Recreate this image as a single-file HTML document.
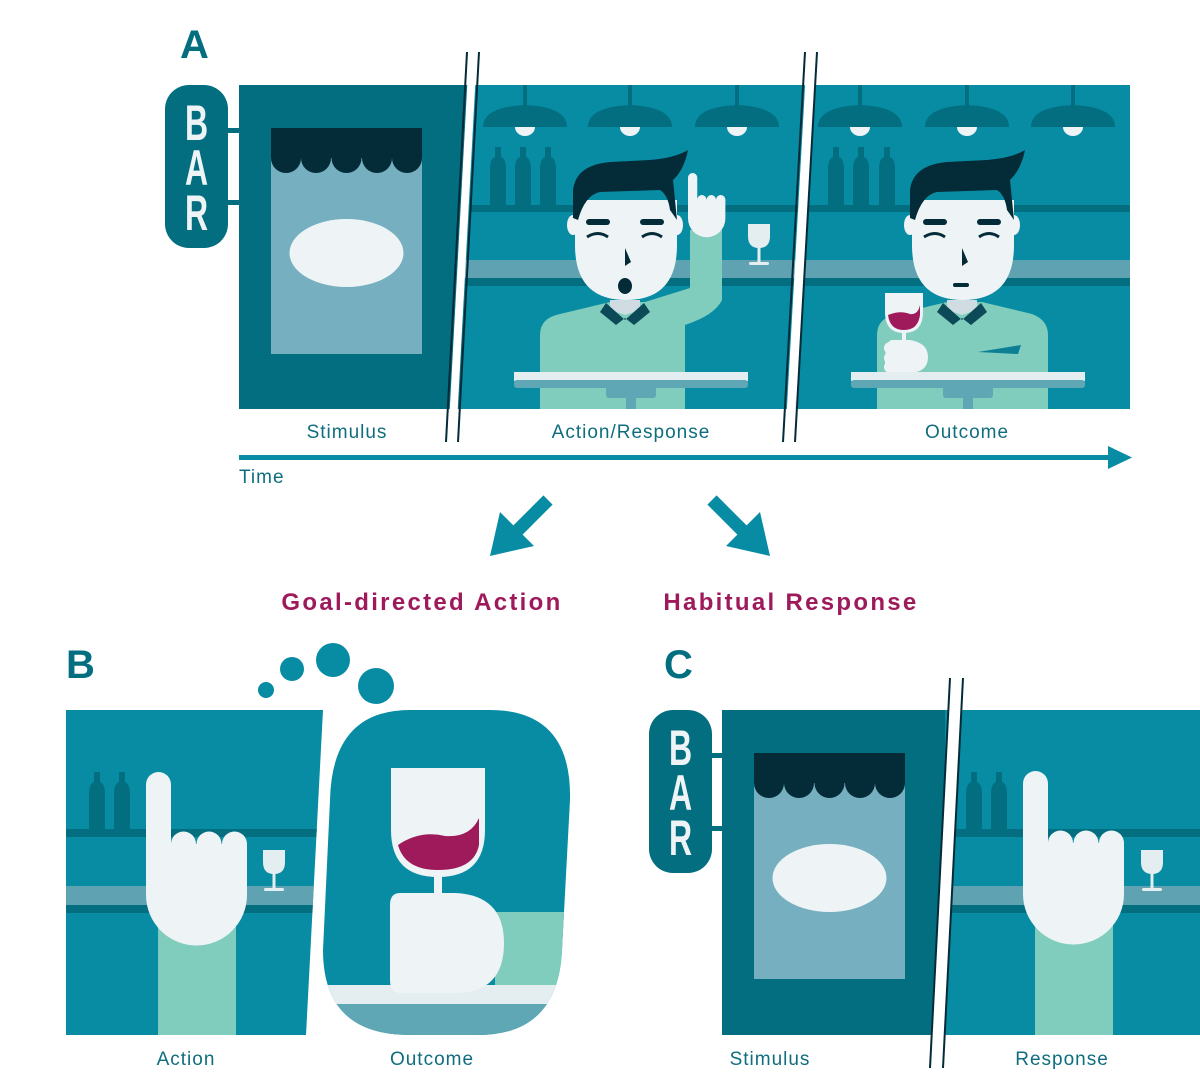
<!DOCTYPE html>
<html><head><meta charset="utf-8"><style>
html,body{margin:0;padding:0;background:#fff;}
svg{display:block}
text{font-family:"Liberation Sans",sans-serif;}
</style></head><body>
<svg width="1200" height="1078" viewBox="0 0 1200 1078" xmlns="http://www.w3.org/2000/svg">
<defs>
  <g id="lamp">
    <rect x="-2" y="0" width="4" height="22" fill="#036e80"/>
    <path d="M-42,42 Q-42,22 0,20 Q42,22 42,42 Z" fill="#036e80"/>
    <path d="M-10,42 A10,9 0 0 0 10,42 Z" fill="#eef4f6"/>
  </g>
  <g id="bottle">
    <rect x="-3" y="0" width="6" height="12" fill="#036e80"/>
    <path d="M-8,58 L-8,22 Q-8,12 -3,10 L3,10 Q8,12 8,22 L8,58 Z" fill="#036e80"/>
  </g>
  <g id="smallglass">
    <path d="M-11,0 L11,0 L11,12 Q11,24 0,24 Q-11,24 -11,12 Z" fill="#e4eef1"/>
    <rect x="-1.5" y="23" width="3" height="16" fill="#e4eef1"/>
    <rect x="-10" y="38" width="20" height="3" rx="1.5" fill="#e4eef1"/>
  </g>
  <g id="hand">
    <rect x="0" y="0" width="25" height="90" rx="12.5" fill="#eef4f6"/>
    <path d="M0,72 L101,72 L101,123 A50.5,50.5 0 0 1 0,123 Z" fill="#eef4f6"/>
    <circle cx="37.5" cy="72" r="12.5" fill="#eef4f6"/>
    <circle cx="63" cy="72" r="12.5" fill="#eef4f6"/>
    <circle cx="88.5" cy="72" r="12.5" fill="#eef4f6"/>
  </g>
  <g id="barsign">
    <rect x="0" y="0" width="63" height="163" rx="24" fill="#036e80"/>
    <g font-weight="bold" fill="#eef4f6" text-anchor="middle">
      <text transform="translate(31.5,55) scale(0.8,1.25)" font-size="40">B</text>
      <text transform="translate(31.5,100) scale(0.8,1.25)" font-size="40">A</text>
      <text transform="translate(31.5,145) scale(0.8,1.25)" font-size="40">R</text>
    </g>
  </g>
  <g id="door">
    <rect x="0" y="0" width="151" height="226" fill="#75afc0"/>
    <rect x="0" y="0" width="151" height="30" fill="#042b38"/>
    <circle cx="15" cy="30" r="15" fill="#042b38"/>
    <circle cx="45" cy="30" r="15" fill="#042b38"/>
    <circle cx="75.5" cy="30" r="15" fill="#042b38"/>
    <circle cx="106" cy="30" r="15" fill="#042b38"/>
    <circle cx="136" cy="30" r="15" fill="#042b38"/>
    <ellipse cx="75.5" cy="125" rx="57" ry="34" fill="#eef4f6"/>
  </g>
  <g id="head">
    <ellipse cx="573" cy="225" rx="6" ry="10" fill="#eef4f6"/>
    <ellipse cx="677" cy="225" rx="6" ry="10" fill="#eef4f6"/>
    <path d="M575,200 L677,200 L677,245 Q677,300 626,300 Q575,300 575,245 Z" fill="#eef4f6"/>
    <path d="M573,218 L573,190 Q576,165 610,162 L650,160 Q675,158 688,150 Q684,170 673,180 L677,220 L670,210 Q668,195 660,190 L600,192 Q585,195 578,220 Z" fill="#042b38"/>
    <rect x="586" y="219" width="24" height="6" rx="3" fill="#042b38"/>
    <rect x="640" y="219" width="24" height="6" rx="3" fill="#042b38"/>
    <path d="M587,237 Q598,230 608,237" stroke="#042b38" stroke-width="3" fill="none"/>
    <path d="M642,237 Q652,230 662,237" stroke="#042b38" stroke-width="3" fill="none"/>
    <path d="M625,248 L631,262 L625,266 Z" fill="#042b38"/>
    <path d="M610,300 L640,300 L640,310 L625,315 L610,310 Z" fill="#cfdde3"/>
  </g>
  <g id="table">
    <rect x="514" y="372" width="234" height="9" fill="#e4eef1"/>
    <rect x="514" y="380" width="234" height="8" rx="3" fill="#5fa7b5"/>
    <rect x="606" y="386" width="50" height="12" rx="3" fill="#5fa7b5"/>
    <rect x="626" y="396" width="10" height="14" fill="#5fa7b5"/>
  </g>
  <g id="barbg">
    <rect x="470" y="205" width="335" height="7" fill="#036e80"/>
    <rect x="465" y="260" width="340" height="18" fill="#5fa3b3"/>
    <rect x="465" y="278" width="340" height="8" fill="#036e80"/>
  </g>
  <clipPath id="cp2"><path d="M472,85 L805,85 L795,409 L460,409 Z"/></clipPath>
  <clipPath id="cp3"><path d="M815,85 L1130,85 L1130,409 L797,409 Z"/></clipPath>
  <clipPath id="cpB"><path d="M66,710 L323,710 L306,1035 L66,1035 Z"/></clipPath>
  <clipPath id="cpO"><path d="M410,710 L490,710 Q572,710 570,800 L562,950 Q558,1035 478,1035 L410,1035 Q323,1035 323,950 L330,800 Q332,710 410,710 Z"/></clipPath>
  <clipPath id="cpC"><rect x="945" y="710" width="255" height="325"/></clipPath>
</defs>

<!-- ===== A ===== -->
<text x="180" y="58" font-size="40" font-weight="bold" fill="#036e80">A</text>
<rect x="228" y="128" width="14" height="5" fill="#036e80"/>
<rect x="228" y="200" width="14" height="5" fill="#036e80"/>
<use href="#barsign" x="165" y="85"/>
<rect x="239" y="85" width="230" height="324" fill="#036e80"/>
<use href="#door" x="271" y="128"/>

<g clip-path="url(#cp2)">
  <rect x="455" y="85" width="355" height="324" fill="#078ca3"/>
  <use href="#barbg"/>
  <use href="#lamp" x="525" y="85"/>
  <use href="#lamp" x="630" y="85"/>
  <use href="#lamp" x="737" y="85"/>
  <use href="#bottle" x="498" y="147"/>
  <use href="#bottle" x="523" y="147"/>
  <use href="#bottle" x="548" y="147"/>
  <use href="#smallglass" x="759" y="224"/>
  <path d="M540,335 Q540,318 560,314 L610,302 L645,302 L690,288 L690,230 L722,230 L722,300 Q715,315 685,325 L685,409 L540,409 Z" fill="#80ccbd"/>
  <use href="#head"/>
  <ellipse cx="625" cy="286" rx="7" ry="8" fill="#042b38"/>
  <path d="M606,303 L625,320 L644,303 L650,312 L634,325 L625,318 L616,325 L600,312 Z" fill="#0d4a58"/>
  <g transform="translate(688,173) scale(0.37)"><use href="#hand"/></g>
  <use href="#table"/>
</g>

<g clip-path="url(#cp3)">
  <rect x="790" y="85" width="345" height="324" fill="#078ca3"/>
  <use href="#barbg" x="335"/>
  <rect x="1130" y="260" width="10" height="26" fill="#5fa3b3"/>
  <use href="#lamp" x="860" y="85"/>
  <use href="#lamp" x="967" y="85"/>
  <use href="#lamp" x="1073" y="85"/>
  <use href="#bottle" x="836" y="147"/>
  <use href="#bottle" x="861" y="147"/>
  <use href="#bottle" x="887" y="147"/>
  <path d="M877,335 Q877,318 897,314 L947,302 L982,302 L1032,314 Q1048,320 1048,335 L1048,409 L877,409 Z" fill="#80ccbd"/>
  <path d="M978,352 L1018,354 L1021,345 Z" fill="#0d7f94"/>
  <use href="#head" x="337"/>
  <rect x="953" y="283" width="16" height="4" rx="2" fill="#042b38"/>
  <path d="M943,303 L962,320 L981,303 L987,312 L971,325 L962,318 L953,325 L937,312 Z" fill="#0d4a58"/>
  <path d="M885,293 L923,293 L923,312 Q923,333 904,333 Q885,333 885,312 Z" fill="#eef4f6"/>
  <path d="M888,315 Q900,310 910,314 Q918,315 920,305 L920,315 Q918,330 904,330 Q890,330 888,315 Z" fill="#9e1a5b"/>
  <rect x="902" y="332" width="4" height="10" fill="#eef4f6"/>
  <path d="M892,340 L910,340 Q928,343 928,357 Q928,372 910,373 L892,373 Q885,373 885,366 Q885,340 892,340 Z" fill="#eef4f6"/>
  <circle cx="890" cy="348" r="6" fill="#eef4f6"/>
  <circle cx="890" cy="358" r="6" fill="#eef4f6"/>
  <circle cx="890" cy="367" r="6" fill="#eef4f6"/>
  <use href="#table" x="337"/>
</g>
<polygon points="469,52 477,52 456,442 448,442" fill="#fff"/>
<polygon points="807,52 815,52 793,442 785,442" fill="#fff"/>
<line x1="467" y1="52" x2="446" y2="442" stroke="#042b38" stroke-width="2"/>
<line x1="479" y1="52" x2="458" y2="442" stroke="#042b38" stroke-width="2"/>
<line x1="805" y1="52" x2="783" y2="442" stroke="#042b38" stroke-width="2"/>
<line x1="817" y1="52" x2="795" y2="442" stroke="#042b38" stroke-width="2"/>

<text x="347" y="438" text-anchor="middle" font-size="19" fill="#0f6e7e" letter-spacing="1">Stimulus</text>
<text x="631" y="438" text-anchor="middle" font-size="19" fill="#0f6e7e" letter-spacing="1">Action/Response</text>
<text x="967" y="438" text-anchor="middle" font-size="19" fill="#0f6e7e" letter-spacing="1">Outcome</text>
<rect x="239" y="455" width="880" height="5" fill="#078ca3"/>
<path d="M1108,446 L1132,457.5 L1108,469 Z" fill="#078ca3"/>
<text x="239" y="483" font-size="19" fill="#0f6e7e" letter-spacing="1">Time</text>

<line x1="548" y1="500" x2="510" y2="538" stroke="#078ca3" stroke-width="13"/>
<path d="M490,556 L500,512 L534,546 Z" fill="#078ca3"/>
<line x1="712" y1="500" x2="750" y2="538" stroke="#078ca3" stroke-width="13"/>
<path d="M770,556 L760,512 L726,546 Z" fill="#078ca3"/>

<text x="422" y="610" text-anchor="middle" font-size="24" font-weight="bold" fill="#9e1a5b" letter-spacing="2.3">Goal-directed Action</text>
<text x="791" y="610" text-anchor="middle" font-size="24" font-weight="bold" fill="#9e1a5b" letter-spacing="2.3">Habitual Response</text>

<!-- ===== B ===== -->
<text x="66" y="678" font-size="40" font-weight="bold" fill="#036e80">B</text>
<circle cx="266" cy="690" r="8" fill="#078ca3"/>
<circle cx="292" cy="669" r="12" fill="#078ca3"/>
<circle cx="333" cy="660" r="17" fill="#078ca3"/>
<circle cx="376" cy="686" r="18" fill="#078ca3"/>
<g clip-path="url(#cpB)">
  <rect x="66" y="710" width="260" height="325" fill="#078ca3"/>
  <rect x="66" y="829" width="260" height="8" fill="#036e80"/>
  <rect x="66" y="886" width="260" height="19" fill="#5fa3b3"/>
  <rect x="66" y="905" width="260" height="8" fill="#036e80"/>
  <use href="#bottle" x="97" y="772"/>
  <use href="#bottle" x="122" y="772"/>
  <use href="#smallglass" x="274" y="850"/>
  <rect x="158" y="925" width="78" height="110" fill="#80ccbd"/>
  <use href="#hand" x="146" y="772"/>
</g>
<g clip-path="url(#cpO)">
  <rect x="320" y="705" width="255" height="335" fill="#078ca3"/>
  <rect x="495" y="912" width="80" height="75" fill="#80ccbd"/>
  <rect x="320" y="985" width="255" height="19" fill="#e4eef1"/>
  <rect x="320" y="1004" width="255" height="35" fill="#5fa7b5"/>
  <path d="M391,768 L485,768 L485,830 Q485,877 438,877 Q391,877 391,830 Z" fill="#eef4f6"/>
  <path d="M398,845 Q420,830 445,836 Q470,838 479,818 L479,845 Q474,870 438,870 Q405,870 398,845 Z" fill="#9e1a5b"/>
  <rect x="434" y="876" width="8" height="20" fill="#eef4f6"/>
  <path d="M400,893 L455,893 Q504,895 504,943 Q504,993 455,993 L400,993 Q390,993 390,980 L390,905 Q390,893 400,893 Z" fill="#eef4f6"/>
  <circle cx="400" cy="928" r="10" fill="#eef4f6"/>
  <circle cx="400" cy="950" r="10" fill="#eef4f6"/>
  <circle cx="400" cy="972" r="10" fill="#eef4f6"/>
</g>
<text x="186" y="1065" text-anchor="middle" font-size="19" fill="#0f6e7e" letter-spacing="1">Action</text>
<text x="432" y="1065" text-anchor="middle" font-size="19" fill="#0f6e7e" letter-spacing="1">Outcome</text>

<!-- ===== C ===== -->
<text x="664" y="678" font-size="40" font-weight="bold" fill="#036e80">C</text>
<rect x="705" y="753" width="20" height="5" fill="#036e80"/>
<rect x="705" y="826" width="20" height="5" fill="#036e80"/>
<use href="#barsign" x="649" y="710"/>
<rect x="722" y="710" width="225" height="325" fill="#036e80"/>
<use href="#door" x="754" y="753"/>
<g clip-path="url(#cpC)">
  <rect x="935" y="710" width="265" height="325" fill="#078ca3"/>
  <rect x="945" y="829" width="255" height="8" fill="#036e80"/>
  <rect x="945" y="886" width="255" height="19" fill="#5fa3b3"/>
  <rect x="945" y="905" width="255" height="8" fill="#036e80"/>
  <use href="#bottle" x="974" y="772"/>
  <use href="#bottle" x="999" y="772"/>
  <use href="#smallglass" x="1152" y="850"/>
  <rect x="1035" y="925" width="78" height="110" fill="#80ccbd"/>
  <use href="#hand" x="1023" y="771"/>
</g>
<polygon points="950,678 963,678 943,1068 930,1068" fill="#fff"/>
<line x1="950" y1="678" x2="930" y2="1068" stroke="#042b38" stroke-width="2"/>
<line x1="963" y1="678" x2="943" y2="1068" stroke="#042b38" stroke-width="2"/>
<text x="770" y="1065" text-anchor="middle" font-size="19" fill="#0f6e7e" letter-spacing="1">Stimulus</text>
<text x="1062" y="1065" text-anchor="middle" font-size="19" fill="#0f6e7e" letter-spacing="1">Response</text>
</svg>
</body></html>
